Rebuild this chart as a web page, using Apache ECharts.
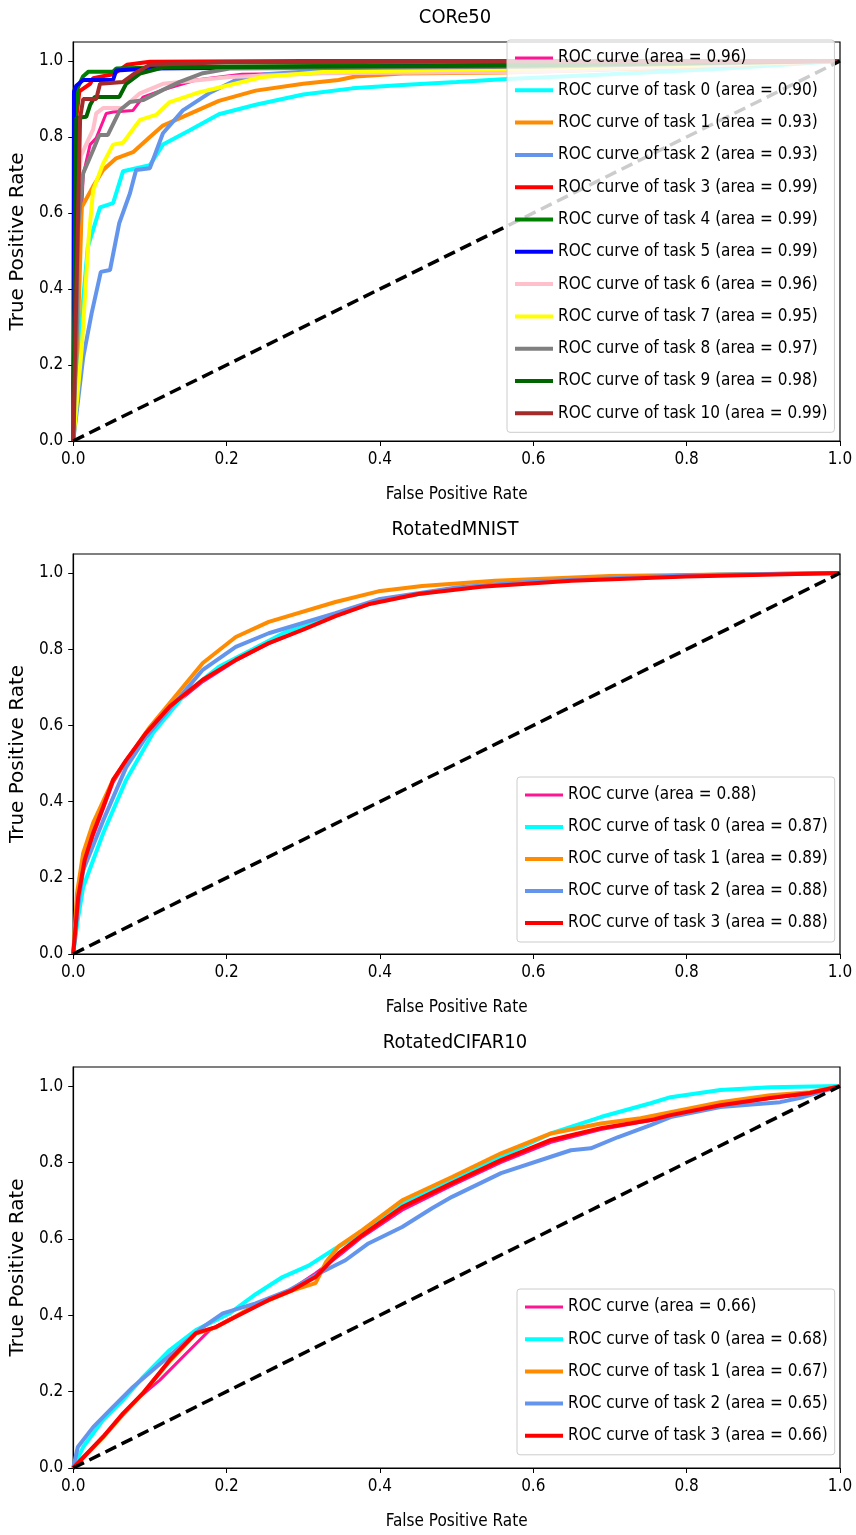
<!DOCTYPE html>
<html>
<head>
<meta charset="utf-8">
<title>ROC curves</title>
<script src="https://cdn.jsdelivr.net/npm/echarts@6/dist/echarts.min.js"></script>
<style>
  html, body { margin: 0; padding: 0; background: #fff; }
  #chart { width: 856px; height: 1535px; }
</style>
</head>
<body>
<div id="chart"></div>
<script>
// ---- data: [false positive rate, true positive rate] ----
var panelTitles = ['CORe50', 'RotatedMNIST', 'RotatedCIFAR10']
var xTicks = [0, 0.2, 0.4, 0.6, 0.8, 1.0]
var yTicks = [0, 0.2, 0.4, 0.6, 0.8, 1.0]
var chance = [[0, 0], [1, 1]]

// CORe50
var core50Names = [
  'ROC curve (area = 0.96)',
  'ROC curve of task 0 (area = 0.90)',
  'ROC curve of task 1 (area = 0.93)',
  'ROC curve of task 2 (area = 0.93)',
  'ROC curve of task 3 (area = 0.99)',
  'ROC curve of task 4 (area = 0.99)',
  'ROC curve of task 5 (area = 0.99)',
  'ROC curve of task 6 (area = 0.96)',
  'ROC curve of task 7 (area = 0.95)',
  'ROC curve of task 8 (area = 0.97)',
  'ROC curve of task 9 (area = 0.98)',
  'ROC curve of task 10 (area = 0.99)'
]
var core50Overall = [[0, 0], [0.008, 0.45], [0.013, 0.7], [0.022, 0.78], [0.03, 0.797], [0.043, 0.862], [0.052, 0.866], [0.078, 0.87], [0.091, 0.905], [0.117, 0.924], [0.16, 0.95], [0.22, 0.965], [0.4, 0.97], [0.6, 0.975], [1, 1]]
var core50Task0 = [[0, 0], [0.005, 0.12], [0.012, 0.35], [0.019, 0.51], [0.035, 0.615], [0.052, 0.626], [0.065, 0.71], [0.1, 0.726], [0.117, 0.78], [0.152, 0.818], [0.19, 0.86], [0.238, 0.885], [0.3, 0.912], [0.364, 0.928], [0.429, 0.937], [0.5, 0.945], [0.56, 0.952], [0.7, 0.965], [0.85, 0.98], [1, 1]]
var core50Task1 = [[0, 0], [0.008, 0.4], [0.011, 0.615], [0.026, 0.67], [0.039, 0.713], [0.056, 0.744], [0.078, 0.76], [0.1, 0.8], [0.117, 0.83], [0.151, 0.86], [0.19, 0.895], [0.238, 0.922], [0.3, 0.94], [0.346, 0.95], [0.368, 0.959], [0.429, 0.967], [0.56, 0.97], [0.75, 0.98], [1, 1]]
var core50Task2 = [[0, 0], [0.013, 0.22], [0.024, 0.336], [0.036, 0.445], [0.048, 0.45], [0.06, 0.573], [0.074, 0.652], [0.082, 0.713], [0.1, 0.718], [0.117, 0.81], [0.143, 0.87], [0.177, 0.915], [0.212, 0.95], [0.25, 0.965], [0.35, 0.978], [0.6, 0.988], [1, 1]]
var core50Task3 = [[0, 0], [0.004, 0.85], [0.008, 0.92], [0.022, 0.94], [0.026, 0.955], [0.052, 0.965], [0.07, 0.99], [0.1, 0.998], [0.3, 1], [1, 1]]
var core50Task4 = [[0, 0], [0.003, 0.85], [0.006, 0.93], [0.013, 0.96], [0.02, 0.972], [0.052, 0.972], [0.056, 0.98], [0.15, 0.985], [0.6, 0.99], [1, 1]]
var core50Task5 = [[0, 0], [0.001, 0.92], [0.004, 0.935], [0.013, 0.95], [0.052, 0.95], [0.056, 0.975], [0.1, 0.98], [0.4, 0.985], [1, 1]]
var core50Task6 = [[0, 0], [0.004, 0.6], [0.01, 0.75], [0.019, 0.79], [0.026, 0.82], [0.03, 0.862], [0.039, 0.876], [0.065, 0.876], [0.087, 0.915], [0.117, 0.94], [0.204, 0.958], [0.325, 0.968], [0.6, 0.972], [1, 1]]
var core50Task7 = [[0, 0], [0.011, 0.24], [0.02, 0.53], [0.026, 0.66], [0.039, 0.73], [0.052, 0.78], [0.065, 0.785], [0.087, 0.845], [0.108, 0.858], [0.126, 0.892], [0.16, 0.915], [0.204, 0.937], [0.247, 0.958], [0.325, 0.971], [0.6, 0.98], [1, 1]]
var core50Task8 = [[0, 0], [0.005, 0.3], [0.006, 0.555], [0.013, 0.705], [0.026, 0.766], [0.034, 0.805], [0.045, 0.805], [0.061, 0.871], [0.074, 0.892], [0.091, 0.897], [0.117, 0.924], [0.139, 0.945], [0.169, 0.968], [0.204, 0.98], [0.6, 0.985], [1, 1]]
var core50Task9 = [[0, 0], [0.004, 0.85], [0.017, 0.853], [0.022, 0.884], [0.028, 0.905], [0.06, 0.905], [0.069, 0.94], [0.087, 0.967], [0.117, 0.983], [0.6, 0.988], [1, 1]]
var core50Task10 = [[0, 0], [0.009, 0.85], [0.013, 0.9], [0.03, 0.9], [0.035, 0.94], [0.065, 0.945], [0.082, 0.97], [0.1, 0.99], [0.2, 0.997], [1, 1]]

// RotatedMNIST
var mnistNames = [
  'ROC curve (area = 0.88)',
  'ROC curve of task 0 (area = 0.87)',
  'ROC curve of task 1 (area = 0.89)',
  'ROC curve of task 2 (area = 0.88)',
  'ROC curve of task 3 (area = 0.88)'
]
var mnistOverall = [[0, 0], [0.006, 0.14], [0.015, 0.24], [0.026, 0.31], [0.039, 0.38], [0.052, 0.45], [0.069, 0.505], [0.095, 0.575], [0.126, 0.645], [0.169, 0.715], [0.212, 0.77], [0.255, 0.815], [0.3, 0.852], [0.342, 0.888], [0.4, 0.93], [0.5, 0.96], [0.6, 0.977], [0.8, 0.992], [1, 1]]
var mnistTask0 = [[0, 0], [0.006, 0.09], [0.013, 0.176], [0.039, 0.317], [0.069, 0.457], [0.104, 0.58], [0.147, 0.685], [0.19, 0.754], [0.234, 0.8], [0.277, 0.845], [0.342, 0.888], [0.398, 0.928], [0.5, 0.96], [0.6, 0.978], [0.8, 0.994], [1, 1]]
var mnistTask1 = [[0, 0], [0.005, 0.16], [0.013, 0.265], [0.026, 0.344], [0.052, 0.457], [0.1, 0.596], [0.169, 0.764], [0.212, 0.832], [0.255, 0.872], [0.342, 0.924], [0.398, 0.952], [0.455, 0.966], [0.55, 0.98], [0.7, 0.992], [1, 1]]
var mnistTask2 = [[0, 0], [0.006, 0.12], [0.013, 0.22], [0.039, 0.35], [0.069, 0.49], [0.095, 0.57], [0.169, 0.746], [0.212, 0.806], [0.255, 0.842], [0.342, 0.895], [0.4, 0.932], [0.5, 0.962], [0.6, 0.978], [0.8, 0.994], [1, 1]]
var mnistTask3 = [[0, 0], [0.0065, 0.15], [0.015, 0.247], [0.026, 0.318], [0.039, 0.386], [0.052, 0.457], [0.069, 0.509], [0.095, 0.58], [0.126, 0.65], [0.169, 0.72], [0.212, 0.772], [0.255, 0.816], [0.299, 0.851], [0.342, 0.887], [0.385, 0.918], [0.45, 0.945], [0.532, 0.964], [0.65, 0.98], [0.8, 0.991], [1, 1]]

// RotatedCIFAR10
var cifarNames = [
  'ROC curve (area = 0.66)',
  'ROC curve of task 0 (area = 0.68)',
  'ROC curve of task 1 (area = 0.67)',
  'ROC curve of task 2 (area = 0.65)',
  'ROC curve of task 3 (area = 0.66)'
]
var cifarOverall = [[0, 0], [0.039, 0.082], [0.065, 0.14], [0.082, 0.178], [0.113, 0.23], [0.143, 0.291], [0.178, 0.361], [0.204, 0.39], [0.255, 0.44], [0.286, 0.47], [0.316, 0.51], [0.346, 0.555], [0.377, 0.605], [0.429, 0.675], [0.494, 0.74], [0.558, 0.8], [0.623, 0.853], [0.688, 0.886], [0.753, 0.91], [0.844, 0.948], [0.909, 0.968], [0.961, 0.98], [1, 1]]
var cifarTask0 = [[0, 0], [0.013, 0.055], [0.039, 0.126], [0.065, 0.178], [0.091, 0.238], [0.126, 0.309], [0.16, 0.361], [0.204, 0.405], [0.238, 0.455], [0.273, 0.5], [0.307, 0.53], [0.342, 0.575], [0.377, 0.615], [0.429, 0.693], [0.494, 0.754], [0.558, 0.815], [0.623, 0.876], [0.688, 0.919], [0.753, 0.955], [0.779, 0.971], [0.844, 0.99], [0.909, 0.997], [1, 1]]
var cifarTask1 = [[0, 0], [0.039, 0.08], [0.065, 0.14], [0.091, 0.196], [0.126, 0.28], [0.16, 0.352], [0.186, 0.368], [0.234, 0.422], [0.286, 0.465], [0.316, 0.484], [0.33, 0.54], [0.346, 0.58], [0.377, 0.623], [0.429, 0.701], [0.494, 0.762], [0.558, 0.824], [0.623, 0.876], [0.688, 0.902], [0.74, 0.916], [0.844, 0.958], [0.909, 0.976], [0.961, 0.984], [1, 1]]
var cifarTask2 = [[0, 0], [0.006, 0.055], [0.026, 0.107], [0.052, 0.16], [0.078, 0.212], [0.108, 0.264], [0.139, 0.317], [0.169, 0.369], [0.195, 0.405], [0.238, 0.431], [0.282, 0.466], [0.321, 0.51], [0.355, 0.544], [0.385, 0.588], [0.429, 0.631], [0.468, 0.68], [0.494, 0.71], [0.558, 0.772], [0.623, 0.815], [0.649, 0.832], [0.675, 0.837], [0.71, 0.866], [0.753, 0.898], [0.779, 0.919], [0.844, 0.945], [0.922, 0.958], [0.952, 0.971], [1, 1]]
var cifarTask3 = [[0, 0], [0.039, 0.082], [0.065, 0.143], [0.091, 0.196], [0.126, 0.283], [0.16, 0.353], [0.186, 0.369], [0.221, 0.405], [0.255, 0.44], [0.286, 0.466], [0.316, 0.5], [0.346, 0.562], [0.377, 0.61], [0.429, 0.683], [0.494, 0.746], [0.558, 0.806], [0.623, 0.859], [0.688, 0.89], [0.753, 0.911], [0.779, 0.924], [0.844, 0.95], [0.909, 0.969], [0.961, 0.982], [1, 1]]

// ---- styles ----
var lineColors = ['#ff1493', '#00ffff', '#ff8c00', '#6495ed', '#ff0000', '#008000', '#0000ff', '#ffc0cb', '#ffff00', '#808080', '#006400', '#a52a2a']
var narrow = "'DejaVu Sans Condensed', 'DejaVu Sans', sans-serif"

var panels = [
  { names: core50Names, curves: [core50Overall, core50Task0, core50Task1, core50Task2, core50Task3, core50Task4, core50Task5, core50Task6, core50Task7, core50Task8, core50Task9, core50Task10], top: 42, height: 399, legend: { left: 507, top: 40, gap: 12.3 } },
  { names: mnistNames, curves: [mnistOverall, mnistTask0, mnistTask1, mnistTask2, mnistTask3], top: 554, height: 400, legend: { left: 517, top: 777, gap: 12 } },
  { names: cifarNames, curves: [cifarOverall, cifarTask0, cifarTask1, cifarTask2, cifarTask3], top: 1067, height: 401, legend: { left: 517, top: 1289, gap: 12.2 } }
]

var grids = []
var xAxes = []
var yAxes = []
var titles = []
var legends = []
var series = []

panels.forEach(function(p, i) {
  grids.push({
    left: 70, right: 16, top: p.top, height: p.height,
    show: true, borderColor: '#000', borderWidth: 1.2, backgroundColor: 'transparent'
  })
  titles.push({
    text: panelTitles[i], left: 455, top: p.top - 34, textAlign: 'center', padding: 0,
    textStyle: { fontFamily: narrow, fontSize: 20, fontWeight: 'normal', color: '#000' }
  })
  xAxes.push({
    type: 'value', gridIndex: i, min: 0, max: 1, interval: 0.2,
    name: 'False Positive Rate', nameLocation: 'middle', nameGap: 45,
    nameTextStyle: { fontFamily: narrow, fontSize: 17, color: '#000' },
    axisLine: { show: true, onZero: false, lineStyle: { color: '#000', width: 1.2 } },
    axisTick: { show: true, length: 5, customValues: xTicks, lineStyle: { color: '#000' } },
    axisLabel: { fontFamily: narrow, fontSize: 17, color: '#000', margin: 10, customValues: xTicks,
      formatter: function(v) { return v.toFixed(1) } },
    splitLine: { show: false }
  })
  yAxes.push({
    type: 'value', gridIndex: i, min: 0, max: 1.05,
    name: 'True Positive Rate', nameLocation: 'middle', nameGap: 37,
    nameTextStyle: { fontFamily: 'DejaVu Sans', fontSize: 20, color: '#000' },
    axisLine: { show: true, onZero: false, lineStyle: { color: '#000', width: 1.2 } },
    axisTick: { show: true, length: 5, customValues: yTicks, lineStyle: { color: '#000' } },
    axisLabel: { fontFamily: narrow, fontSize: 17, color: '#000', margin: 10, customValues: yTicks,
      formatter: function(v) { return v.toFixed(1) } },
    splitLine: { show: false }
  })
  legends.push({
    data: p.names, orient: 'vertical', left: p.legend.left, top: p.legend.top,
    itemWidth: 38, itemHeight: 4, itemGap: p.legend.gap,
    padding: [8, 7, 9, 6],
    itemStyle: { opacity: 0 },
    lineStyle: { width: 'inherit' },
    backgroundColor: 'rgba(255,255,255,0.8)', borderColor: '#cccccc', borderWidth: 1, borderRadius: 3,
    textStyle: { fontFamily: narrow, fontSize: 17, color: '#000', lineHeight: 20 }
  })
  p.curves.forEach(function(curve, k) {
    series.push({
      name: p.names[k], type: 'line', xAxisIndex: i, yAxisIndex: i,
      data: curve, symbol: 'none', animation: false,
      itemStyle: { color: lineColors[k] },
      lineStyle: { color: lineColors[k], width: k === 0 ? 3 : 4 }
    })
  })
  series.push({
    name: 'chance', type: 'line', xAxisIndex: i, yAxisIndex: i,
    data: chance, symbol: 'none', animation: false,
    itemStyle: { color: '#000' },
    lineStyle: { color: '#000', width: 3.5, type: [12, 6] }
  })
})

var chart = echarts.init(document.getElementById('chart'))
chart.setOption({
  backgroundColor: '#fff',
  animation: false,
  title: titles,
  grid: grids,
  xAxis: xAxes,
  yAxis: yAxes,
  legend: legends,
  series: series
})
</script>
</body>
</html>
